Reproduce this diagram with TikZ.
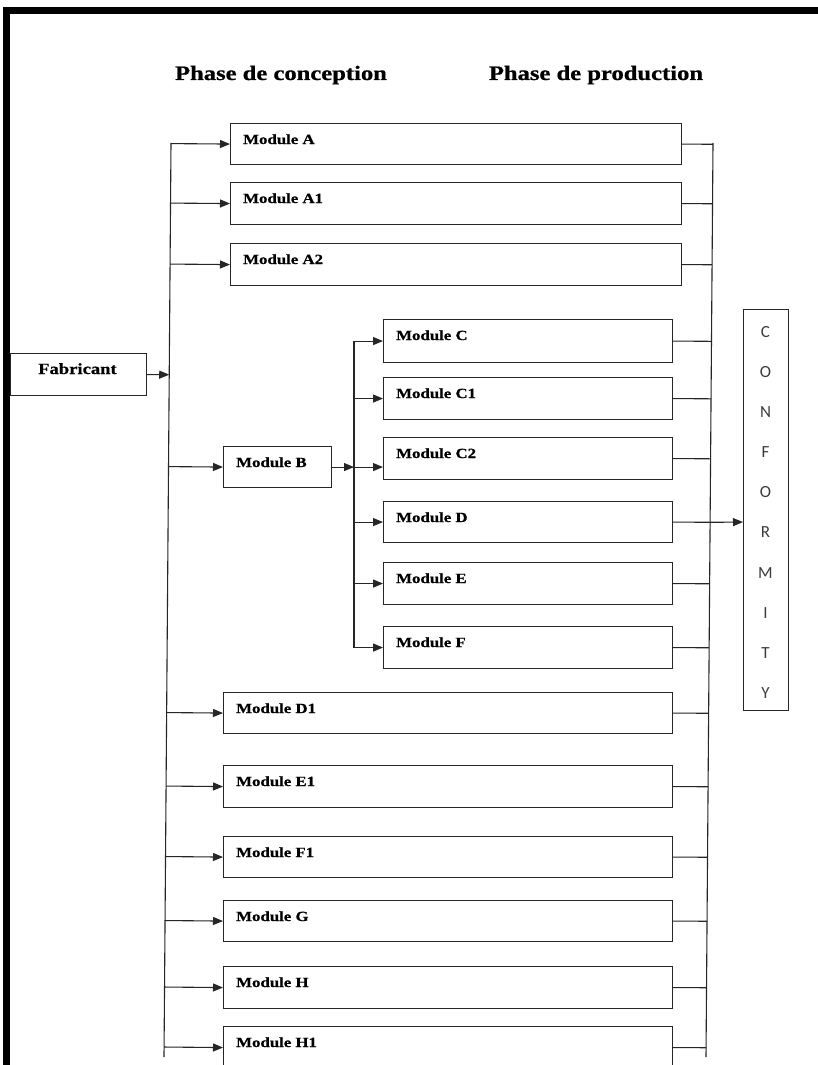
\documentclass[tikz,border=0pt]{standalone}
\usepackage{fontspec}
\setmainfont{Liberation Serif}[FakeStretch=1.2,BoldFeatures={FakeBold=0.8}]
\newfontfamily\conffont{Carlito}
\usetikzlibrary{arrows.meta,calc}
\definecolor{ink}{HTML}{262626}
\definecolor{confgray}{HTML}{3C3C3C}
\tikzset{
  box/.style={draw=ink,line width=1.1pt,inner sep=0pt,rectangle},
  lbl/.style={font=\fontsize{14}{16}\selectfont\bfseries,inner sep=0pt,text=black},
  ttl/.style={font=\fontsize{20.5}{24}\selectfont\bfseries,inner sep=0pt,text=black},
  ln/.style={draw=ink,line width=1.1pt},
  arr/.style={draw=ink,line width=1.1pt,-{Triangle[length=10pt,width=8pt]}},
  conf/.style={font=\conffont\fontsize{17}{19}\selectfont,text=confgray,inner sep=0pt}
}
\newcommand\modbox[6]{%
  \node[box,minimum width=#4pt,minimum height=#5pt,anchor=north west] (#1) at (#2,#3) {};
  \node[lbl,anchor=base west] (#1t) at ($(#1.north west)+(13,21)$) {#6};}
\begin{document}
\begin{tikzpicture}[x=1pt,y=-1pt]
\clip (0,0) rectangle (818,1065);
\fill[white] (0,0) rectangle (818,1065);
% frame
\fill[black] (3,7) rectangle (818,14);
\fill[black] (3,7) rectangle (10,1065);
% titles
\node[ttl,anchor=base] (t1) at (281,80) {Phase de conception};
\node[ttl,anchor=base] (t2) at (596,80) {Phase de production};
% boxes
\modbox{A}{230}{123}{451}{41}{Module A}
\modbox{A1}{230}{182}{451}{42}{Module A1}
\modbox{A2}{230}{243}{451}{42}{Module A2}
\node[box,minimum width=136pt,minimum height=42pt,anchor=north west] (Fab) at (10,353) {};
\node[lbl,font=\fontsize{15.5}{17}\selectfont\bfseries,anchor=base west] (Fabt) at ($(Fab.north west)+(28,21)$) {Fabricant};
\modbox{B}{223}{446}{108}{41}{Module B}
\modbox{C}{383}{319}{289}{43}{Module C}
\modbox{C1}{383}{377}{289}{42}{Module C1}
\modbox{C2}{383}{437}{289}{42}{Module C2}
\modbox{D}{383}{501}{289}{41}{Module D}
\modbox{E}{383}{562}{289}{42}{Module E}
\modbox{F}{383}{626}{289}{42}{Module F}
\modbox{D1}{223}{692}{449}{41}{Module D1}
\modbox{E1}{223}{765}{449}{42}{Module E1}
\modbox{F1}{223}{836}{449}{41}{Module F1}
\modbox{G}{223}{900}{449}{41}{Module G}
\modbox{H}{223}{966}{449}{42}{Module H}
\modbox{H1}{223}{1026}{449}{42}{Module H1}
% conformity box
\node[box,minimum width=45pt,minimum height=401pt,anchor=north west] (Conf) at (743,309) {};
\foreach \l [count=\i] in {C,O,N,F,O,R,M,I,T,Y}
  \node[conf] (L\i) at (765.5,{332+40.1*(\i-1)}) {\l};
% left bus
\coordinate (bT) at (171,143);
\coordinate (bB) at (164,1057);
\draw[ln] (bT) -- (bB);
\foreach \n in {A,A1,A2,B,D1,E1,F1,G,H,H1}
  \draw[arr] ($(bT)!(\n.west)!(bB)$) -- (\n.west);
\draw[arr] (Fab.east) -- ($(bT)!(Fab.east)!(bB)$);
% C bus
\coordinate (cx) at (354,0);
\draw[ln] (cx |- C.west) -- (cx |- F.west);
\draw[arr] (B.east) -- (cx |- B.east);
\draw[arr] (cx |- B.east) -- (C2.west |- B.east);
\foreach \n in {C,C1,D,E,F}
  \draw[arr] (cx |- \n.west) -- (\n.west);
% right bus
\coordinate (rT) at (713,143);
\coordinate (rB) at (706,1057);
\draw[ln] (rT) -- (rB);
\foreach \n in {A,A1,A2,C,C1,C2,D,E,F,D1,E1,F1,G,H,H1}
  \draw[ln] (\n.east) -- ($(rT)!(\n.east)!(rB)$);
\draw[arr] ($(rT)!(D.east)!(rB)$) -- (Conf.west |- D.east);
\end{tikzpicture}
\end{document}
